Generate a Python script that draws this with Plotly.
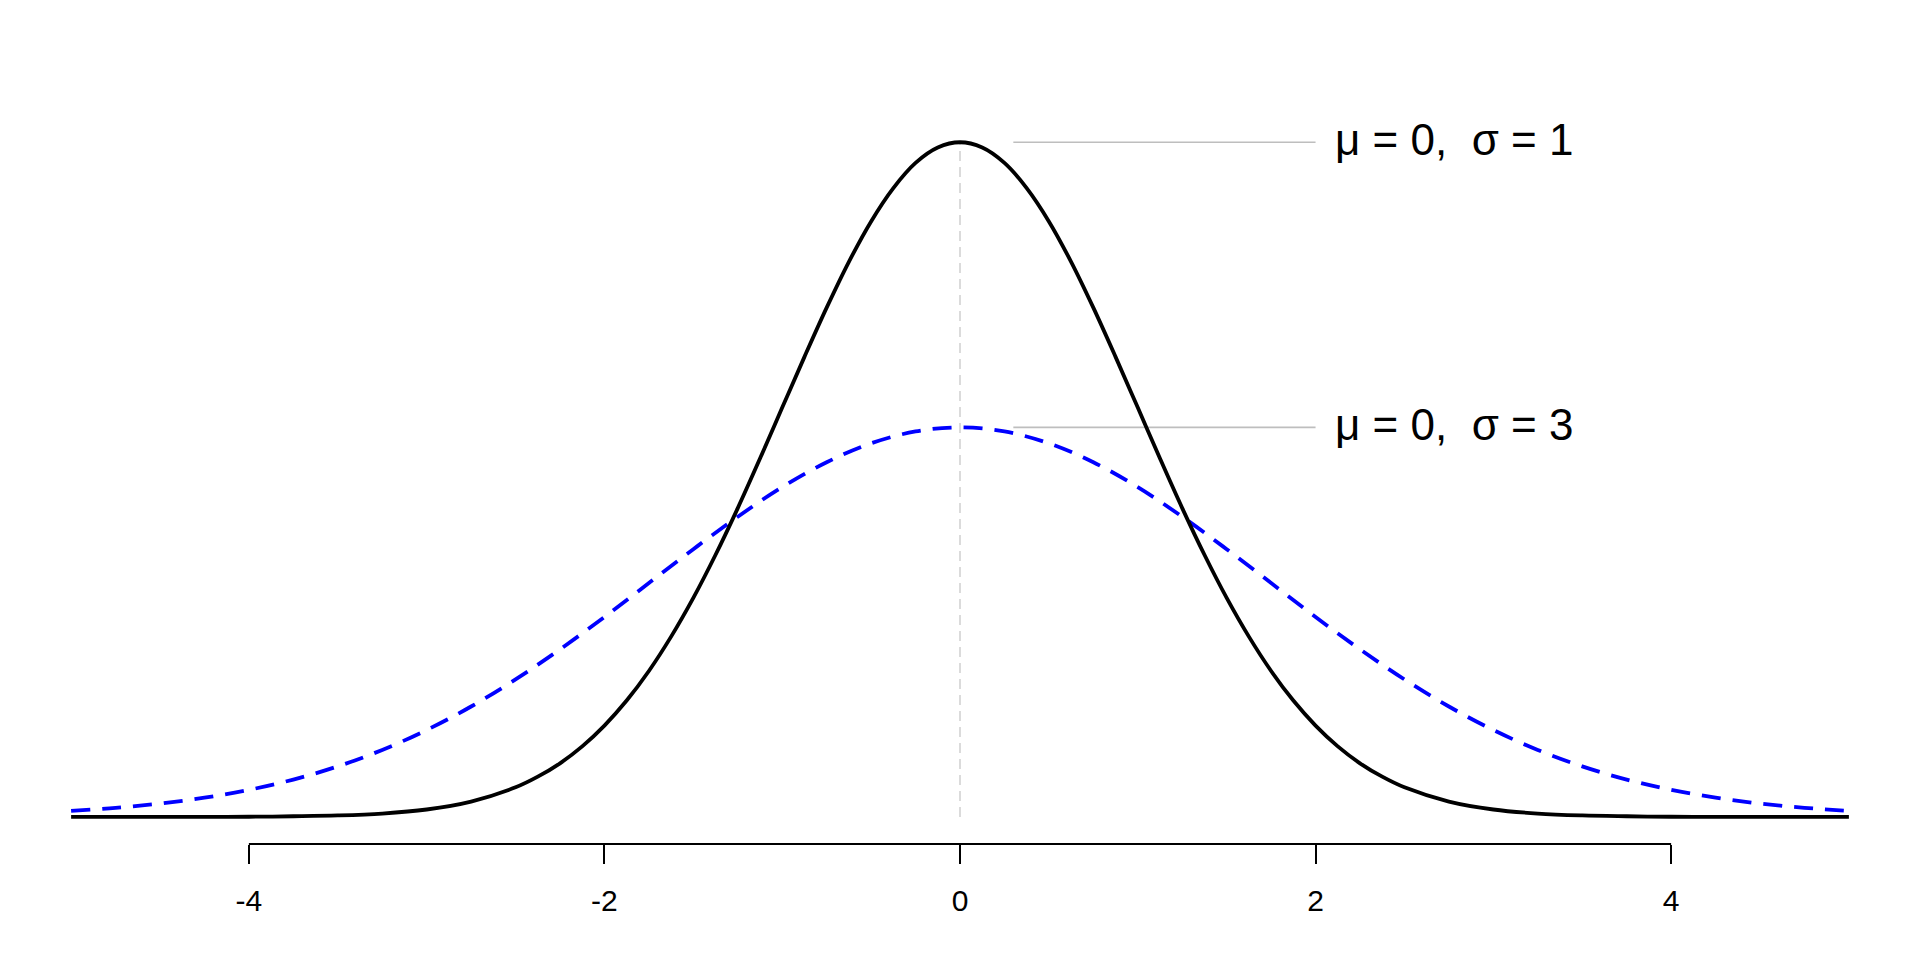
import plotly.graph_objects as go

# ---- data ----
x_sigma1 = [-5.0, -4.75, -4.5, -4.25, -4.0, -3.75, -3.5, -3.25, -3.0, -2.75, -2.5,
            -2.375, -2.25, -2.125, -2.0, -1.875, -1.75, -1.625, -1.5, -1.375, -1.25,
            -1.125, -1.0, -0.875, -0.75, -0.625, -0.5, -0.375, -0.25, -0.125, 0.0,
            0.125, 0.25, 0.375, 0.5, 0.625, 0.75, 0.875, 1.0, 1.125, 1.25,
            1.375, 1.5, 1.625, 1.75, 1.875, 2.0, 2.125, 2.25, 2.375, 2.5,
            2.75, 3.0, 3.25, 3.5, 3.75, 4.0, 4.25, 4.5, 4.75, 5.0]
density_sigma1 = [0.0000, 0.0000, 0.0000, 0.0000, 0.0001, 0.0004, 0.0009, 0.0020, 0.0044, 0.0091, 0.0175,
                  0.0238, 0.0317, 0.0417, 0.0540, 0.0688, 0.0863, 0.1066, 0.1295, 0.1550, 0.1826,
                  0.2119, 0.2420, 0.2720, 0.3011, 0.3282, 0.3521, 0.3718, 0.3867, 0.3958, 0.3989,
                  0.3958, 0.3867, 0.3718, 0.3521, 0.3282, 0.3011, 0.2720, 0.2420, 0.2119, 0.1826,
                  0.1550, 0.1295, 0.1066, 0.0863, 0.0688, 0.0540, 0.0417, 0.0317, 0.0238, 0.0175,
                  0.0091, 0.0044, 0.0020, 0.0009, 0.0004, 0.0001, 0.0000, 0.0000, 0.0000, 0.0000]

x_sigma3 = [-5.0, -4.75, -4.5, -4.25, -4.0, -3.75, -3.5, -3.25, -3.0, -2.75, -2.5,
            -2.25, -2.0, -1.75, -1.5, -1.25, -1.0, -0.75, -0.5, -0.25, 0.0,
            0.25, 0.5, 0.75, 1.0, 1.25, 1.5, 1.75, 2.0, 2.25, 2.5,
            2.75, 3.0, 3.25, 3.5, 3.75, 4.0, 4.25, 4.5, 4.75, 5.0]
density_sigma3 = [0.0036, 0.0054, 0.0079, 0.0114, 0.0160, 0.0221, 0.0299, 0.0396, 0.0514, 0.0653, 0.0813,
                  0.0991, 0.1182, 0.1383, 0.1583, 0.1775, 0.1950, 0.2097, 0.2209, 0.2279, 0.2303,
                  0.2279, 0.2209, 0.2097, 0.1950, 0.1775, 0.1583, 0.1383, 0.1182, 0.0991, 0.0813,
                  0.0653, 0.0514, 0.0396, 0.0299, 0.0221, 0.0160, 0.0114, 0.0079, 0.0054, 0.0036]

series_labels = ["\u03bc = 0,\u00a0\u00a0\u03c3 = 1", "\u03bc = 0,\u00a0\u00a0\u03c3 = 3"]
tick_values = [-4, -2, 0, 2, 4]
tick_labels = ["-4", "-2", "0", "2", "4"]
label_line_start = 0.3
label_line_end = 2.0
label_text_x = 2.1

FONT = "Liberation Sans, Arial, Helvetica, sans-serif"

fig = go.Figure()

peak1 = max(density_sigma1)
peak3 = max(density_sigma3)

# dashed vertical reference at the mean
fig.add_trace(go.Scatter(x=[0, 0], y=[0, peak1], mode="lines",
                         line=dict(color="#d3d3d3", width=1.6, dash="10px,6px"),
                         hoverinfo="skip", showlegend=False))

# label leader lines
for pk in (peak1, peak3):
    fig.add_trace(go.Scatter(x=[label_line_start, label_line_end], y=[pk, pk], mode="lines",
                             line=dict(color="#bebebe", width=1.6),
                             hoverinfo="skip", showlegend=False))

fig.add_trace(go.Scatter(x=x_sigma3, y=density_sigma3, mode="lines", name=series_labels[1],
                         line=dict(color="#0000ff", width=3.8, dash="19px,12px",
                                   shape="spline", smoothing=1.0),
                         showlegend=False))
fig.add_trace(go.Scatter(x=x_sigma1, y=density_sigma1, mode="lines", name=series_labels[0],
                         line=dict(color="#000000", width=3.8, shape="spline", smoothing=1.0),
                         showlegend=False))

for pk, lab in ((peak1, series_labels[0]), (peak3, series_labels[1])):
    fig.add_annotation(x=label_text_x, y=pk, text=lab, showarrow=False,
                       xanchor="left", yanchor="middle", yshift=3,
                       font=dict(family=FONT, size=44, color="#000000"))

# R-style axis line spanning only the tick range
fig.add_shape(type="line", xref="x", yref="paper", x0=min(tick_values), x1=max(tick_values),
              y0=0, y1=0, line=dict(color="#000000", width=2))

fig.update_layout(
    width=1904, height=944,
    margin=dict(l=0, r=0, t=107, b=108, autoexpand=False),
    paper_bgcolor="white", plot_bgcolor="white",
    xaxis=dict(range=[-5.355, 5.355], tickvals=tick_values, ticktext=tick_labels,
               ticks="outside", ticklen=19, tickwidth=2, tickcolor="#000000",
               showgrid=False, zeroline=False, showline=False,
               ticklabelstandoff=11,
               tickfont=dict(family=FONT, size=30, color="#000000")),
    yaxis=dict(range=[-0.016, 0.415], visible=False, showgrid=False, zeroline=False),
    showlegend=False,
)

fig.write_html("out.html")
